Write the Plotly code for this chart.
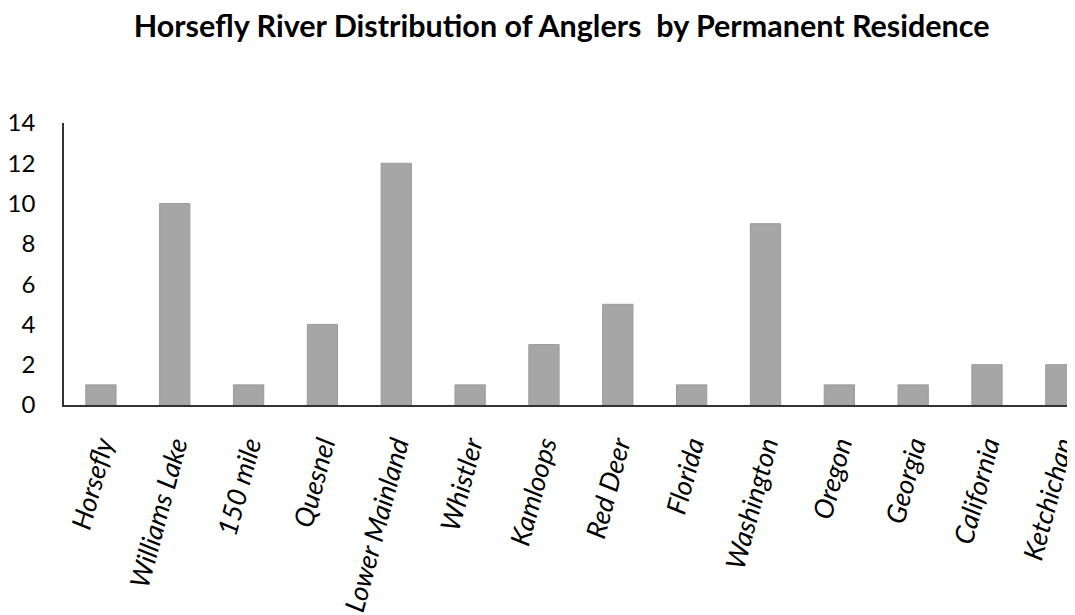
import plotly.graph_objects as go

categories = ["Horsefly", "Williams Lake", "150 mile", "Quesnel", "Lower Mainland",
              "Whistler", "Kamloops", "Red Deer", "Florida", "Washington",
              "Oregon", "Georgia", "California", "Ketchichan"]
values = [1, 10, 1, 4, 12, 1, 3, 5, 1, 9, 1, 1, 2, 2]
y_ticks = [0, 2, 4, 6, 8, 10, 12, 14]

FONT = "Lato, Open Sans, sans-serif"

fig = go.Figure(go.Bar(
    x=categories, y=values,
    marker=dict(color="#a6a6a6", line=dict(color="#9a9a9a", width=1)),
    width=0.41,
))

fig.update_layout(
    width=1075, height=615,
    paper_bgcolor="white", plot_bgcolor="white",
    margin=dict(l=56, r=0, t=115, b=218),
    title=dict(text="<b>Horsefly River Distribution of Anglers  by Permanent Residence</b>",
               x=0.515, xanchor="center", y=0.97, yanchor="middle",
               font=dict(family=FONT, size=30.5, color="#000")),
    showlegend=False,
    font=dict(family=FONT, color="#000"),
)
fig.update_xaxes(
    range=[-0.5, 13.30], showline=True, linecolor="#333", linewidth=1.5,
    showgrid=False, ticks="", tickangle=-75, automargin=False,
    tickfont=dict(size=27, style="italic", family=FONT, color="#000"),
    ticklabelstandoff=12,
)
fig.update_yaxes(
    range=[0, 14], tickvals=y_ticks, showline=True, linecolor="#333", linewidth=1.5,
    showgrid=False, ticks="", zeroline=False, automargin=False,
    tickfont=dict(size=24, family=FONT, color="#000"),
    ticklabelstandoff=22,
)

fig.write_html("out.html")
